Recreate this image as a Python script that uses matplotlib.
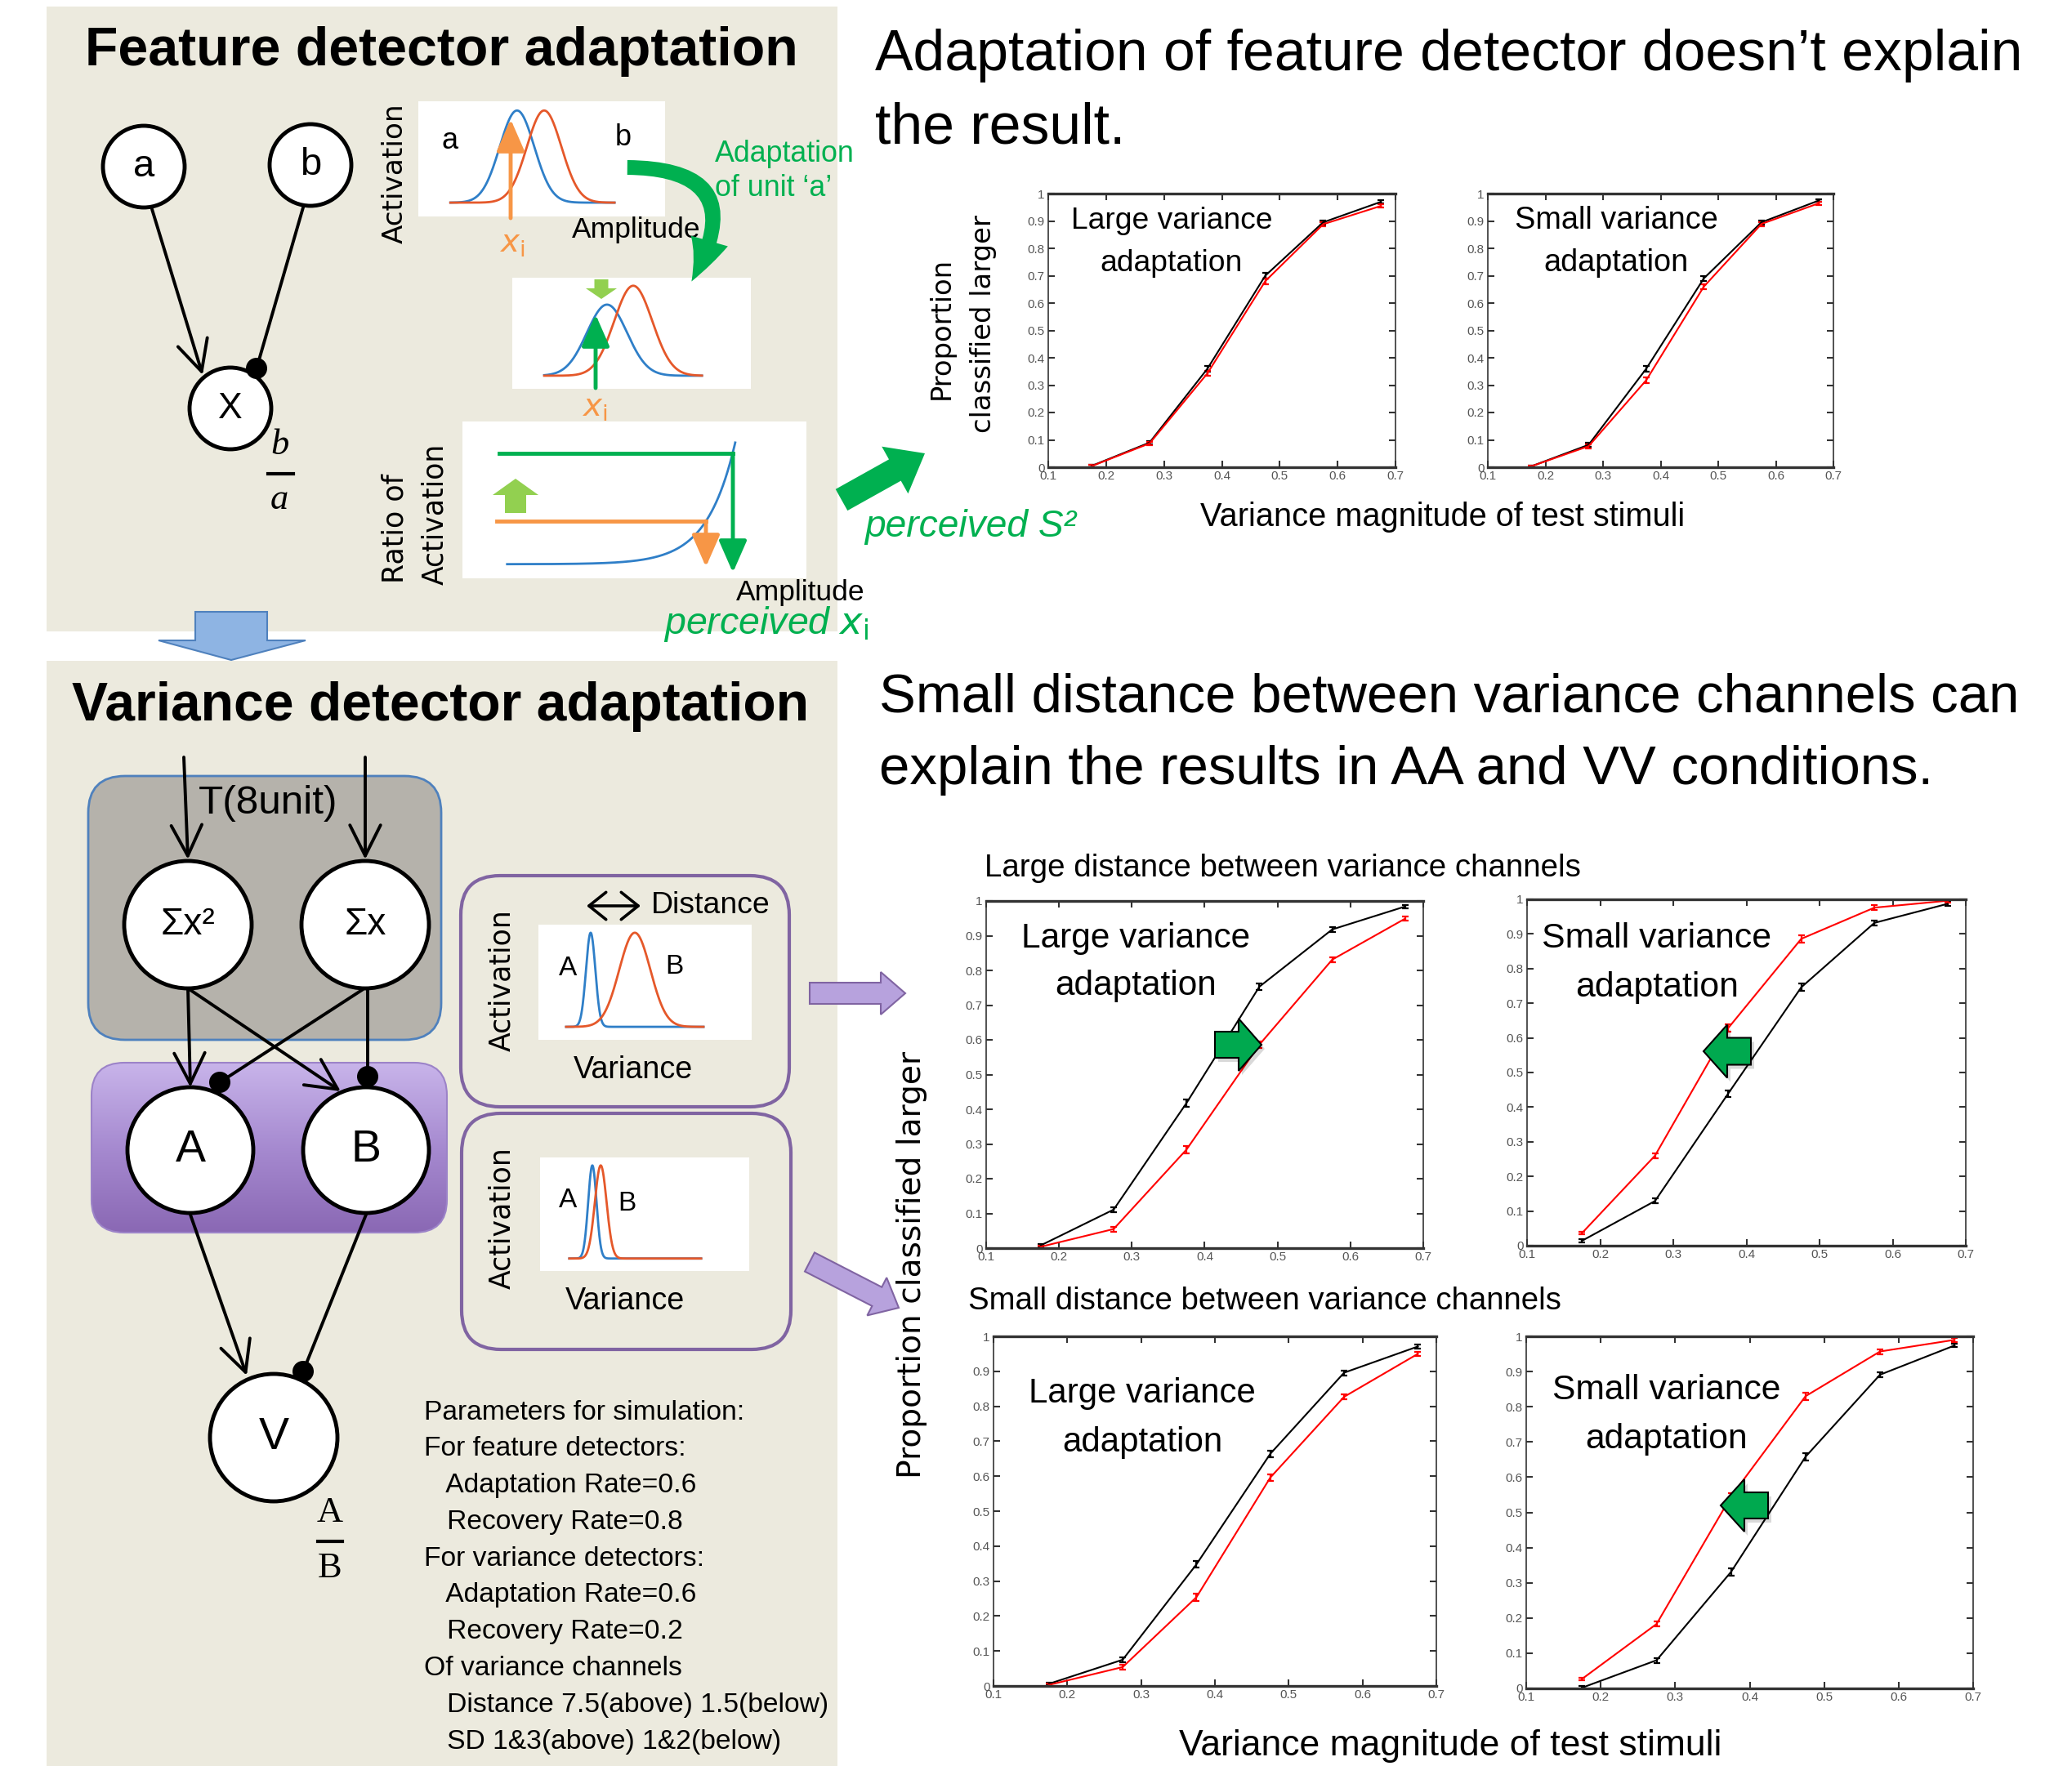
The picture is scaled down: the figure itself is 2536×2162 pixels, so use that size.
import numpy as np
import matplotlib
matplotlib.use("Agg")
import matplotlib.pyplot as plt
import matplotlib.patches as mpatches
from matplotlib.colors import LinearSegmentedColormap
from matplotlib import font_manager

W, H = 2536, 2162

# ---- data -------------------------------------------------------------
stim = [0.175, 0.275, 0.375, 0.475, 0.575, 0.675]
x_ticks = [0.1, 0.2, 0.3, 0.4, 0.5, 0.6, 0.7]
x_tick_labels = ["0.1", "0.2", "0.3", "0.4", "0.5", "0.6", "0.7"]
y_ticks = [0, 0.1, 0.2, 0.3, 0.4, 0.5, 0.6, 0.7, 0.8, 0.9, 1.0]
y_tick_labels = ["0", "0.1", "0.2", "0.3", "0.4", "0.5", "0.6", "0.7", "0.8", "0.9", "1"]

# feature detector model (top)
feat_large_black = [0.005, 0.090, 0.360, 0.700, 0.895, 0.970]
feat_large_red = [0.004, 0.087, 0.343, 0.680, 0.888, 0.955]
feat_small_black = [0.003, 0.082, 0.360, 0.690, 0.895, 0.975]
feat_small_red = [0.003, 0.077, 0.318, 0.660, 0.889, 0.965]
# variance detector model, large distance between channels
far_large_black = [0.008, 0.111, 0.418, 0.753, 0.918, 0.984]
far_large_red = [0.004, 0.055, 0.284, 0.586, 0.831, 0.949]
far_small_black = [0.014, 0.129, 0.439, 0.746, 0.932, 0.987]
far_small_red = [0.036, 0.260, 0.628, 0.886, 0.976, 0.996]
# variance detector model, small distance between channels
near_large_black = [0.006, 0.075, 0.348, 0.664, 0.896, 0.971]
near_large_red = [0.003, 0.054, 0.254, 0.596, 0.827, 0.950]
near_small_black = [0.002, 0.080, 0.331, 0.658, 0.891, 0.974]
near_small_red = [0.027, 0.183, 0.545, 0.830, 0.957, 0.990]
err_black = [0.004, 0.007, 0.010, 0.010, 0.007, 0.005]
err_red = [0.004, 0.007, 0.010, 0.010, 0.007, 0.006]

# schematic tuning curves: (centre, width, height) as fraction of box
feat_curves = [(0.40, 0.070, 0.80), (0.51, 0.070, 0.80)]
adapted_curves = [(0.397, 0.084, 0.64), (0.507, 0.080, 0.81)]
far_curves = [(0.245, 0.022, 0.817), (0.452, 0.073, 0.817)]
near_curves = [(0.25, 0.020, 0.82), (0.29, 0.028, 0.82)]

param_lines = ["Parameters for simulation:", "For feature detectors:",
               "   Adaptation Rate=0.6", "   Recovery Rate=0.8",
               "For variance detectors:", "   Adaptation Rate=0.6",
               "   Recovery Rate=0.2", "Of variance channels",
               "   Distance 7.5(above) 1.5(below)", "   SD 1&3(above) 1&2(below)"]

# ---- fonts / colours ---------------------------------------------------
avail = {f.name for f in font_manager.fontManager.ttflist}
def pick(*names):
    for n in names:
        if n in avail:
            return n
    return "DejaVu Sans"
SANS = pick("Liberation Sans", "Arial")
SERIF = pick("Liberation Serif", "DejaVu Serif")
ROUND = "DejaVu Sans"

BEIGE = "#eceade"
GREEN = "#00b050"
LGREEN = "#92d050"
ORANGE = "#f79646"
CBLUE = "#2f7fc8"
CORANGE = "#e5582a"

fig = plt.figure(figsize=(W / 100, H / 100), dpi=100)
renderer = fig.canvas.get_renderer()

bg = fig.add_axes([0, 0, 1, 1])
bg.set_xlim(0, W); bg.set_ylim(H, 0); bg.axis("off")


def fit(t, target):
    bb = t.get_window_extent(renderer)
    t.set_fontsize(t.get_fontsize() * target / max(bb.width, bb.height))
    return t.get_fontsize()


def block_arrow(ax, tail, tip, shaft_w, head_w, head_len, fc, ec="none", lw=0, z=5, shadow=False):
    tx, ty = tail; px, py = tip
    d = np.hypot(px - tx, py - ty)
    ux, uy = (px - tx) / d, (py - ty) / d
    nx, ny = -uy, ux
    bx, by = px - ux * head_len, py - uy * head_len
    s, h = shaft_w / 2, head_w / 2
    pts = [(tx + nx * s, ty + ny * s), (bx + nx * s, by + ny * s), (bx + nx * h, by + ny * h),
           (px, py), (bx - nx * h, by - ny * h), (bx - nx * s, by - ny * s), (tx - nx * s, ty - ny * s)]
    if shadow:
        ax.add_patch(mpatches.Polygon([(x + 4, y + 5) for x, y in pts], fc="black", alpha=0.15,
                                      ec="none", zorder=z - 0.1))
    ax.add_patch(mpatches.Polygon(pts, closed=True, fc=fc, ec=ec, lw=lw, zorder=z, joinstyle="miter"))


def node(cx, cy, r, label, size):
    bg.add_patch(mpatches.Circle((cx, cy), r, fc="white", ec="black", lw=3.5, zorder=3))
    bg.text(cx, cy, label, fontsize=size, ha="center", va="center", family=SANS, zorder=4)


def excite(p0, p1):
    bg.annotate("", xy=p1, xytext=p0, zorder=2,
                arrowprops=dict(arrowstyle="->,head_length=0.9,head_width=0.45", color="black",
                                lw=2.8, shrinkA=0, shrinkB=0, mutation_scale=30))


def inhibit(p0, p1):
    bg.plot([p0[0], p1[0]], [p0[1], p1[1]], color="black", lw=2.8, zorder=2)
    bg.add_patch(mpatches.Circle(p1, 13, fc="black", zorder=5))


def bumps(box, curves, lo, hi, base):
    x0, y0, x1, y1 = box
    bg.add_patch(mpatches.Rectangle((x0, y0), x1 - x0, y1 - y0, fc="white", ec="none", zorder=2))
    t = np.linspace(lo, hi, 400)
    for (c, s, h), col in zip(curves, [CBLUE, CORANGE]):
        v = base + h * np.exp(-0.5 * ((t - c) / s) ** 2)
        bg.plot(x0 + t * (x1 - x0), y1 - v * (y1 - y0), color=col, lw=2, zorder=3)


def rtext(x, y, s, target, **kw):
    t = bg.text(x, y, s, rotation=90, ha="center", va="center", family=ROUND, fontsize=20, zorder=6, **kw)
    return fit(t, target)


# ---- left panels ---------------------------------------------------------
bg.add_patch(mpatches.Rectangle((57, 8), 968, 765, fc=BEIGE, ec="none", zorder=0))
bg.add_patch(mpatches.Rectangle((57, 809), 968, 1353, fc=BEIGE, ec="none", zorder=0))
bg.add_patch(mpatches.Polygon([(239, 749), (327, 749), (327, 784), (374, 784), (283, 808),
                               (194, 784), (239, 784)], fc="#8eb4e3", ec="#4f81bd", lw=1.5, zorder=1))

t = bg.text(540, 63, "Feature detector adaptation", ha="center", va="center", family=SANS,
            weight="bold", fontsize=40)
fit(t, 870)
t = bg.text(539, 865, "Variance detector adaptation", ha="center", va="center", family=SANS,
            weight="bold", fontsize=40)
fit(t, 900)

# feature network
node(176, 204, 50, "a", 34)
node(380, 202, 50, "b", 34)
node(282, 500, 50, "X", 32)
excite((186, 256), (248, 459))
inhibit((371, 254), (314, 451))
bg.text(342, 545, "b", family=SERIF, style="italic", fontsize=32, ha="center", va="center")
bg.plot([328, 359], [580, 580], color="black", lw=3)
bg.text(342, 612, "a", family=SERIF, style="italic", fontsize=32, ha="center", va="center")

# tuning curve boxes
bumps((512, 124, 814, 265), feat_curves, 0.13, 0.795, 0.12)
bg.text(551, 172, "a", family=SANS, fontsize=26, ha="center", va="center", zorder=4)
bg.text(763, 169, "b", family=SANS, fontsize=26, ha="center", va="center", zorder=4)
rtext(483, 212, "Activation", 171)
t = bg.text(779, 281, "Amplitude", family=SANS, fontsize=20, ha="center", va="center")
amp_size = fit(t, 157)
bg.text(627, 298, r"$x_{\rm i}$", color=ORANGE, fontsize=28, ha="center", va="center")

bumps((627, 340, 919, 476), adapted_curves, 0.134, 0.795, 0.118)
bg.text(728, 499, r"$x_{\rm i}$", color=ORANGE, fontsize=28, ha="center", va="center")

t = bg.text(875, 188, "Adaptation", color=GREEN, family=SANS, fontsize=20, ha="left", va="center")
sz = fit(t, 170)
bg.text(875, 231, "of unit \u2018a\u2019", color=GREEN, family=SANS, fontsize=sz, ha="left", va="center")

# ratio box
bx0, by0, bx1, by1 = 566, 516, 987, 708
bg.add_patch(mpatches.Rectangle((bx0, by0), bx1 - bx0, by1 - by0, fc="white", ec="none", zorder=2))
tr = np.linspace(0.13, 0.793, 300)
vr = 0.09 + 0.275 * np.exp((tr - 0.708) / 0.082)
bg.plot(bx0 + tr * (bx1 - bx0), by1 - vr * (by1 - by0), color=CBLUE, lw=2, zorder=3)
rtext(483, 647, "Ratio of", 134)
rtext(532, 629, "Activation", 173)
bg.text(980, 725, "Amplitude", family=SANS, fontsize=amp_size, ha="center", va="center")
t = bg.text(938, 764, r"perceived $x_{\rm i}$", color=GREEN, family=SANS, style="italic",
            fontsize=30, ha="center", va="center", zorder=7)
fit(t, 251)

# variance network
bg.add_patch(mpatches.FancyBboxPatch((108, 950), 432, 323, boxstyle="round,pad=0,rounding_size=45",
                                     fc="#b5b2ab", ec="#4f81bd", lw=2, zorder=1))
purple = mpatches.FancyBboxPatch((112, 1301), 435, 208, boxstyle="round,pad=0,rounding_size=40",
                                 fc="none", ec="#9c83c8", lw=1.5, zorder=1.2)
bg.add_patch(purple)
grad = LinearSegmentedColormap.from_list("pg", ["#c8b4ea", "#a68ad0", "#8a68b4"])
im = bg.imshow(np.linspace(0, 1, 256).reshape(-1, 1), cmap=grad, extent=(112, 547, 1509, 1301),
               aspect="auto", zorder=1.1)
im.set_clip_path(purple)

t = bg.text(328, 983, "T(8unit)", family=SANS, fontsize=30, ha="center", va="center", zorder=4)
fit(t, 170)
excite((225, 927), (230, 1052))
excite((447, 927), (447, 1052))
node(230, 1132, 78, "\u03a3x\u00b2", 33)
node(447, 1132, 78, "\u03a3x", 33)
node(233, 1408, 77, "A", 40)
node(448, 1408, 77, "B", 40)
node(335, 1760, 78, "V", 40)
excite((230, 1210), (233, 1331))
excite((233, 1212), (417, 1336))
inhibit((443, 1212), (269, 1325))
inhibit((450, 1210), (450, 1318))
excite((233, 1487), (302, 1684))
inhibit((448, 1487), (371, 1679))
bg.text(404, 1852, "A", family=SERIF, fontsize=32, ha="center", va="center")
bg.plot([389, 419], [1887, 1887], color="black", lw=3)
bg.text(404, 1920, "B", family=SERIF, fontsize=32, ha="center", va="center")

# channel boxes
for (x, y, w, h) in [(564, 1072, 402, 283), (565, 1363, 403, 289)]:
    bg.add_patch(mpatches.FancyBboxPatch((x, y), w, h, boxstyle="round,pad=0,rounding_size=48",
                                         fc=BEIGE, ec="#8064a2", lw=3, zorder=1))
bumps((659, 1132, 920, 1273), far_curves, 0.13, 0.774, 0.113)
bumps((661, 1417, 917, 1556), near_curves, 0.14, 0.77, 0.11)
rtext(614, 1200, "Activation", 174)
rtext(614, 1491, "Activation", 174)
for (x, y, s) in [(695, 1185, "A"), (825, 1183, "B"), (695, 1470, "A"), (767, 1473, "B")]:
    bg.text(x, y, s, family=SANS, fontsize=24, ha="center", va="center", zorder=4)
t = bg.text(797, 1109, "Distance", family=SANS, fontsize=20, ha="left", va="center")
fit(t, 145)
t = bg.text(775, 1310, "Variance", family=SANS, fontsize=20, ha="center", va="center")
vs = fit(t, 146)
bg.text(765, 1593, "Variance", family=SANS, fontsize=vs, ha="center", va="center")

# parameters
ts = [bg.text(519, 1729 + 44.8 * i, s, family=SANS, fontsize=20, ha="left", va="center")
      for i, s in enumerate(param_lines)]
ps = fit(ts[8], 471 + 25)
for t in ts:
    t.set_fontsize(ps)

# ---- right side texts ----------------------------------------------------
t = bg.text(1071, 68, "Adaptation of feature detector doesn\u2019t explain", family=SANS, fontsize=40,
            ha="left", va="center")
hs = fit(t, 1403)
bg.text(1071, 157, "the result.", family=SANS, fontsize=hs, ha="left", va="center")
t = bg.text(1076, 854, "Small distance between variance channels can", family=SANS, fontsize=40,
            ha="left", va="center")
hs2 = fit(t, 1395)
bg.text(1076, 943, "explain the results in AA and VV conditions.", family=SANS, fontsize=hs2,
        ha="left", va="center")

ys = rtext(1204, 397, "classified larger", 267)
bg.text(1152, 402, "Proportion", rotation=90, ha="center", va="center", family=ROUND, fontsize=ys)
t = bg.text(1766, 633, "Variance magnitude of test stimuli", family=SANS, fontsize=30,
            ha="center", va="center")
fit(t, 592)
t = bg.text(1188, 645, "perceived S\u00b2", color=GREEN, family=SANS, style="italic", fontsize=30,
            ha="center", va="center")
fit(t, 259)

t = bg.text(1205, 1063, "Large distance between variance channels", family=SANS, fontsize=30,
            ha="left", va="center")
fit(t, 728)
t = bg.text(1185, 1593, "Small distance between variance channels", family=SANS, fontsize=30,
            ha="left", va="center")
fit(t, 725)
rtext(1116, 1548, "Proportion classified larger", 523)
t = bg.text(1775, 2137, "Variance magnitude of test stimuli", family=SANS, fontsize=30,
            ha="center", va="center")
fit(t, 662)


# ---- psychometric plots --------------------------------------------------
def psy_axes(box, black, red):
    x0, y0, x1, y1 = box
    ax = fig.add_axes([x0 / W, 1 - y1 / H, (x1 - x0) / W, (y1 - y0) / H])
    ax.errorbar(stim, black, yerr=err_black, color="black", lw=1.5, elinewidth=1.6, capsize=3,
                capthick=1.6)
    ax.errorbar(stim, red, yerr=err_red, color="red", lw=1.5, elinewidth=1.6, capsize=3, capthick=1.6)
    ax.set_xlim(0.1, 0.7); ax.set_ylim(0, 1)
    ax.set_xticks(x_ticks, x_tick_labels)
    ax.set_yticks(y_ticks, y_tick_labels)
    ax.tick_params(direction="in", length=6, width=1.5, top=True, right=True, labelsize=11,
                   labelcolor="#555555", color="#333333", pad=3)
    for lab in ax.get_xticklabels() + ax.get_yticklabels():
        lab.set_family(SANS)
    for side, lw in [("top", 2.4), ("bottom", 2.4), ("left", 1.2), ("right", 1.2)]:
        ax.spines[side].set_linewidth(lw)
        ax.spines[side].set_color("#333333")
    return ax


psy_axes((1283, 237, 1708, 572), feat_large_black, feat_large_red)
psy_axes((1821, 237, 2244, 572), feat_small_black, feat_small_red)
psy_axes((1207, 1103, 1742, 1528), far_large_black, far_large_red)
psy_axes((1869, 1101, 2406, 1525), far_small_black, far_small_red)
psy_axes((1216, 1636, 1758, 2064), near_large_black, near_large_red)
psy_axes((1868, 1636, 2415, 2067), near_small_black, near_small_red)

# ---- overlay -------------------------------------------------------------
ov = fig.add_axes([0, 0, 1, 1])
ov.set_xlim(0, W); ov.set_ylim(H, 0); ov.axis("off")

for (x, y1, y2, s1, target) in [(1434, 270, 322, "Large variance", 246), (1978, 270, 322, "Small variance", 248),
                                (1390, 1149, 1207, "Large variance", 280), (2028, 1149, 1209, "Small variance", 280),
                                (1398, 1706, 1766, "Large variance", 278), (2040, 1702, 1762, "Small variance", 279)]:
    t = ov.text(x, y1, s1, family=SANS, fontsize=30, ha="center", va="center")
    s = fit(t, target)
    ov.text(x, y2, "adaptation", family=SANS, fontsize=s, ha="center", va="center")


def line_arrow(p0, p1, color):
    ov.annotate("", xy=p1, xytext=p0, arrowprops=dict(arrowstyle="-|>,head_length=0.8,head_width=0.35",
                                                      color=color, lw=3.5, shrinkA=0, shrinkB=0,
                                                      mutation_scale=30))


line_arrow((625, 267), (625, 146), ORANGE)
line_arrow((729, 475), (729, 385), GREEN)
block_arrow(ov, (736, 342), (736, 366), 17, 38, 13, LGREEN)
ov.plot([611, 897], [555, 555], color=GREEN, lw=3.5)
line_arrow((897, 555), (897, 701), GREEN)
ov.plot([608, 864], [638, 638], color=ORANGE, lw=3.5)
line_arrow((864, 638), (864, 694), ORANGE)
block_arrow(ov, (631, 628), (631, 586), 26, 56, 20, LGREEN)
ov.annotate("", xy=(784, 1109), xytext=(718, 1109),
            arrowprops=dict(arrowstyle="<->,head_length=0.5,head_width=0.4", color="black", lw=2.6,
                            shrinkA=0, shrinkB=0, mutation_scale=30))

ov.add_patch(mpatches.FancyArrowPatch((765, 205), (845, 347), connectionstyle="angle3,angleA=0,angleB=60",
                                      arrowstyle="simple,head_width=1.3,head_length=1.5,tail_width=0.5",
                                      mutation_scale=26, fc=GREEN, ec="none"))
block_arrow(ov, (1030, 612), (1132, 555), 30, 66, 42, GREEN)
block_arrow(ov, (991, 1216), (1108, 1216), 26, 52, 30, "#b7a2dd", ec="#8064a2", lw=1.5)
block_arrow(ov, (991, 1545), (1100, 1601), 26, 52, 30, "#b7a2dd", ec="#8064a2", lw=1.5)
block_arrow(ov, (1487, 1279), (1544, 1279), 32, 64, 28, "#00a94f", ec="black", lw=1.5, shadow=True)
block_arrow(ov, (2143, 1287), (2085, 1287), 33, 65, 29, "#00a94f", ec="black", lw=1.5, shadow=True)
block_arrow(ov, (2164, 1843), (2106, 1843), 32, 64, 29, "#00a94f", ec="black", lw=1.5, shadow=True)

fig.savefig("out.png", dpi=100)
